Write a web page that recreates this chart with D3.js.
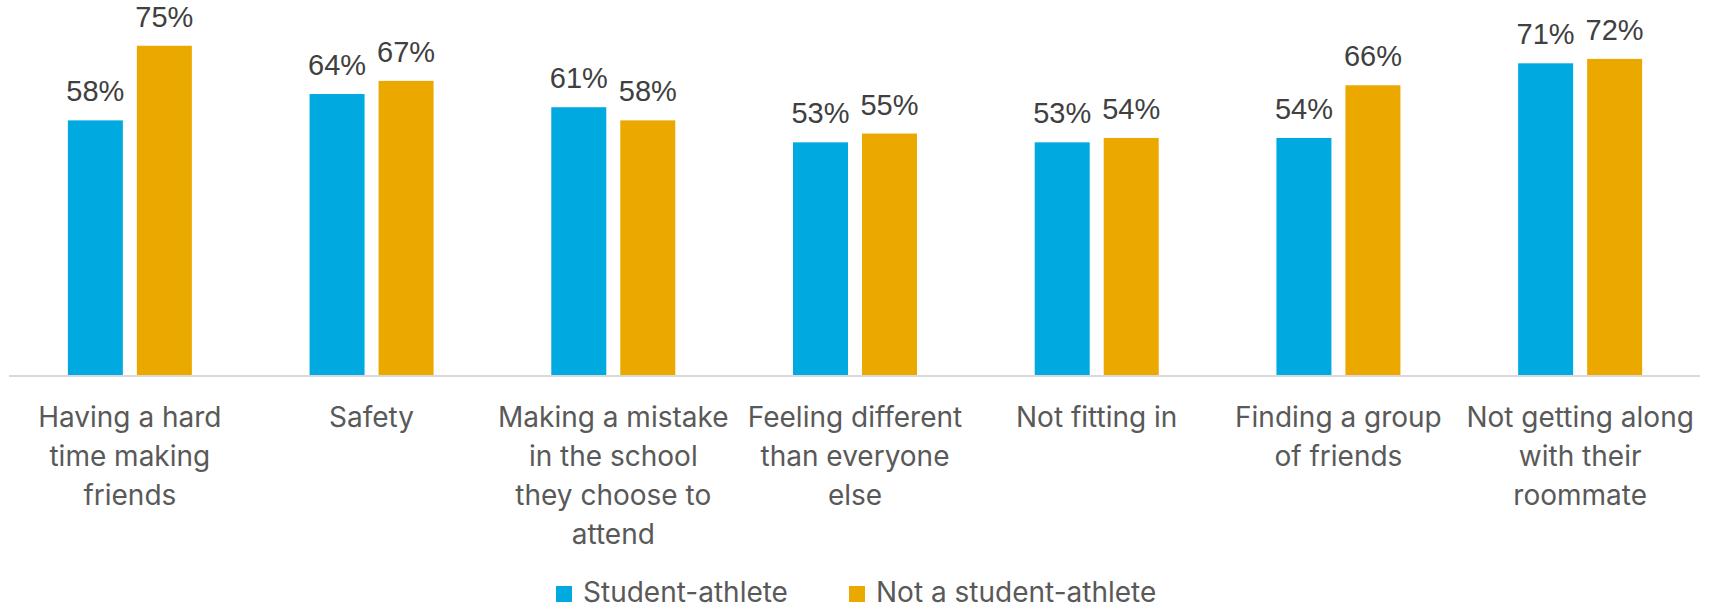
<!DOCTYPE html>
<html>
<head>
<meta charset="utf-8">
<script src="https://cdn.jsdelivr.net/npm/d3@7"></script>
<style>
  html, body { margin: 0; padding: 0; background: #ffffff; }
  svg { display: block; }
</style>
</head>
<body>
<svg id="chart" width="1721" height="610"></svg>
<script>
// Survey concerns, by student-athlete status (percent of respondents)
// Line breaks in category names mark where the axis labels wrap.
const categories = [
  "Having a hard\ntime making\nfriends",
  "Safety",
  "Making a mistake\nin the school\nthey choose to\nattend",
  "Feeling different\nthan everyone\nelse",
  "Not fitting in",
  "Finding a group\nof friends",
  "Not getting along\nwith their\nroommate"
];
const series = ["Student-athlete", "Not a student-athlete"];
const studentAthlete = [58, 64, 61, 53, 53, 54, 71];
const notStudentAthlete = [75, 67, 58, 55, 54, 66, 72];
const colors = ["#00A9E0", "#EBA900"];

const values = [studentAthlete, notStudentAthlete];
const rows = categories.map((c, i) => ({
  category: c,
  bars: series.map((s, j) => ({ series: s, value: values[j][i], color: colors[j] }))
}));

const svg = d3.select("#chart");
const catFont = "Inter, 'Noto Sans', sans-serif";
const numFont = "'Liberation Sans', Arial, sans-serif";

const x0 = d3.scaleBand().domain(categories).range([9, 1701]).paddingInner(0).paddingOuter(0);
const x1 = d3.scaleBand().domain(series).range([0, x0.bandwidth()])
  .paddingInner(0.203).paddingOuter(0.853);
const y = d3.scaleLinear().domain([0, 100]).range([375, -64]);

// bars
const groups = svg.append("g").selectAll("g")
  .data(rows).join("g")
  .attr("transform", d => `translate(${x0(d.category)},0)`);

groups.selectAll("rect")
  .data(d => d.bars).join("rect")
  .attr("x", d => x1(d.series))
  .attr("y", d => y(d.value))
  .attr("width", x1.bandwidth())
  .attr("height", d => y(0) - y(d.value))
  .attr("fill", d => d.color);

// value labels
groups.selectAll("text.val")
  .data(d => d.bars).join("text")
  .attr("class", "val")
  .attr("x", d => x1(d.series) + x1.bandwidth() / 2)
  .attr("y", d => y(d.value) - 19)
  .attr("text-anchor", "middle")
  .style("font-family", numFont)
  .style("font-size", "29px")
  .style("fill", "#404040")
  .text(d => d.value + "%");

// baseline axis
const xAxis = d3.axisBottom(x0).tickSize(0).tickFormat("");
const axisG = svg.append("g").attr("transform", `translate(0,${y(0) + 1})`).call(xAxis);
axisG.select(".domain").attr("stroke", "#d9d9d9").attr("stroke-width", 2)
  .attr("d", `M9,0H1700`);

// category labels, one tspan per line
const labels = svg.append("g").selectAll("text")
  .data(categories).join("text")
  .attr("x", d => x0(d) + x0.bandwidth() / 2)
  .attr("y", 427)
  .attr("text-anchor", "middle")
  .style("font-family", catFont)
  .style("font-size", "28px")
  .style("fill", "#595959");

labels.each(function (d) {
  const t = d3.select(this);
  const cx = x0(d) + x0.bandwidth() / 2;
  d.split("\n").forEach((ln, i) => {
    t.append("tspan").attr("x", cx).attr("dy", i === 0 ? 0 : 39).text(ln);
  });
});

// legend
const legend = svg.append("g").attr("transform", "translate(556,0)");
const legendX = [0, 293];
series.forEach((s, i) => {
  const g = legend.append("g").attr("transform", `translate(${legendX[i]},0)`);
  g.append("rect").attr("x", 0).attr("y", 586).attr("width", 16).attr("height", 16).attr("fill", colors[i]);
  g.append("text").attr("x", 27).attr("y", 602)
    .style("font-family", catFont).style("font-size", "28px").style("fill", "#595959")
    .text(s);
});
</script>
</body>
</html>
